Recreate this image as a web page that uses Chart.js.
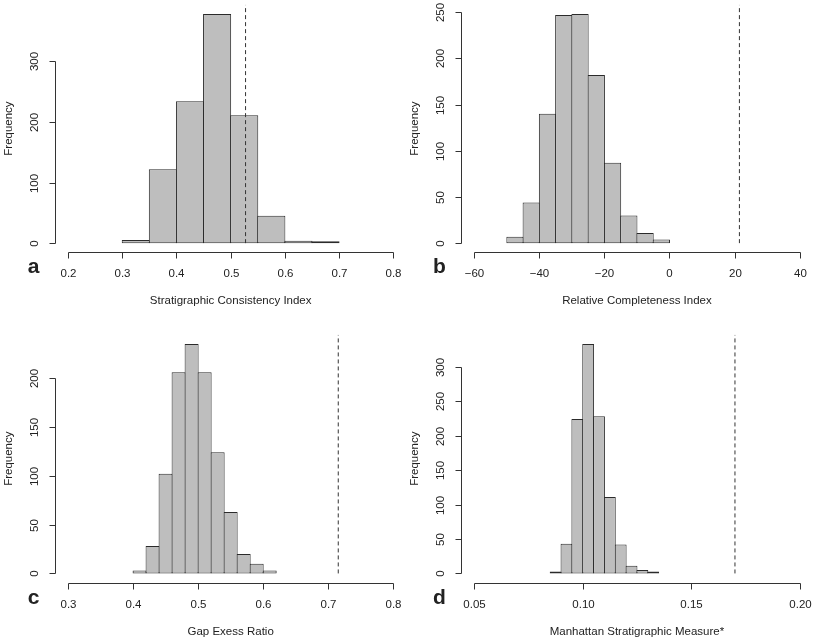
<!DOCTYPE html>
<html>
<head>
<meta charset="utf-8">
<script src="https://cdn.jsdelivr.net/npm/chart.js@4.4.0/dist/chart.umd.min.js"></script>
<style>
  html, body { margin: 0; padding: 0; background: #fff; }
  #wrap { position: relative; width: 813px; height: 640px; overflow: hidden; }
  .panel { position: absolute; width: 407px; height: 320px; }
</style>
</head>
<body>
<div id="wrap">
  <div class="panel" style="left:0;top:0"><canvas id="chart-a" width="407" height="320"></canvas></div>
  <div class="panel" style="left:406px;top:0"><canvas id="chart-b" width="407" height="320"></canvas></div>
  <div class="panel" style="left:0;top:320px"><canvas id="chart-c" width="407" height="320"></canvas></div>
  <div class="panel" style="left:406px;top:320px"><canvas id="chart-d" width="407" height="320"></canvas></div>
</div>
<script>
// a: Stratigraphic Consistency Index
const sciBreaks = [0.30, 0.35, 0.40, 0.45, 0.50, 0.55, 0.60, 0.65, 0.70];
const sciCounts = [5, 122, 234, 378, 211, 45, 4, 1];
const sciTickLabels = ["0.2", "0.3", "0.4", "0.5", "0.6", "0.7", "0.8"];
const sciFreqLabels = ["0", "100", "200", "300"];
const sciObserved = 0.5275;

// b: Relative Completeness Index
const rciBreaks = [-50, -45, -40, -35, -30, -25, -20, -15, -10, -5, 0];
const rciCounts = [7, 44, 140, 247, 248, 182, 87, 30, 11, 4];
const rciTickLabels = ["\u221260", "\u221240", "\u221220", "0", "20", "40"];
const rciFreqLabels = ["0", "50", "100", "150", "200", "250"];
const rciObserved = 21.5;

// c: Gap Exess Ratio
const gerBreaks = [0.40, 0.42, 0.44, 0.46, 0.48, 0.50, 0.52, 0.54, 0.56, 0.58, 0.60, 0.62];
const gerCounts = [3, 28, 102, 206, 235, 206, 124, 63, 20, 10, 3];
const gerTickLabels = ["0.3", "0.4", "0.5", "0.6", "0.7", "0.8"];
const gerFreqLabels = ["0", "50", "100", "150", "200"];
const gerObserved = 0.7154;

// d: Manhattan Stratigraphic Measure*
const msmBreaks = [0.085, 0.090, 0.095, 0.100, 0.105, 0.110, 0.115, 0.120, 0.125, 0.130, 0.135];
const msmCounts = [1, 43, 224, 333, 228, 111, 42, 11, 5, 2];
const msmTickLabels = ["0.05", "0.10", "0.15", "0.20"];
const msmFreqLabels = ["0", "50", "100", "150", "200", "250", "300"];
const msmObserved = 0.1702;

const FONT = "'Liberation Sans', Arial, Helvetica, sans-serif";
const PLOT_W = 351.3; // width of the plot region, same in every panel

const toNum = (s) => Number(s.replace("\u2212", "-"));

// Draws R base-graphics style axes (line only between first and last tick)
const rAxes = {
  id: "rAxes",
  afterDraw(chart, args, opts) {
    const { ctx, chartArea: area } = chart;
    const xs = chart.scales.x, ys = chart.scales.y;
    ctx.save();
    ctx.strokeStyle = "#333";
    ctx.fillStyle = "#222";
    ctx.lineWidth = 1;

    // x axis
    const yb = Math.round(area.bottom) + 0.5;
    const xp = opts.xLabels.map((l) => Math.round(xs.getPixelForValue(toNum(l))) + 0.5);
    ctx.beginPath();
    ctx.moveTo(xp[0], yb);
    ctx.lineTo(xp[xp.length - 1], yb);
    xp.forEach((px) => {
      ctx.moveTo(px, yb);
      ctx.lineTo(px, yb + 6);
    });
    ctx.stroke();
    ctx.font = "11.5px " + FONT;
    ctx.textAlign = "center";
    ctx.textBaseline = "alphabetic";
    opts.xLabels.forEach((l, i) => ctx.fillText(l, xp[i], yb + 24.5));
    ctx.fillText(opts.title, (area.left + area.right) / 2, yb + 51);

    // y axis
    const xl = Math.round(area.left) + 0.5;
    const yp = opts.yLabels.map((l) => Math.round(ys.getPixelForValue(toNum(l))) + 0.5);
    ctx.beginPath();
    ctx.moveTo(xl, yp[0]);
    ctx.lineTo(xl, yp[yp.length - 1]);
    yp.forEach((py) => {
      ctx.moveTo(xl, py);
      ctx.lineTo(xl - 6, py);
    });
    ctx.stroke();
    ctx.textBaseline = "middle";
    opts.yLabels.forEach((l, i) => {
      ctx.save();
      ctx.translate(xl - 20.5, yp[i]);
      ctx.rotate(-Math.PI / 2);
      ctx.fillText(l, 0, 0);
      ctx.restore();
    });
    ctx.save();
    ctx.translate(xl - 46.5, (area.top + area.bottom) / 2);
    ctx.rotate(-Math.PI / 2);
    ctx.fillText("Frequency", 0, 0);
    ctx.restore();

    // panel letter
    ctx.font = "bold 21px " + FONT;
    ctx.textBaseline = "alphabetic";
    ctx.fillText(opts.letter, xl - 22, yb + 20.5);
    ctx.restore();
  },
};

function histogram(id, breaks, counts, xLabels, yLabels, observed, title, letter, pad) {
  const xVals = xLabels.map(toNum);
  const xPad = 0.04 * (xVals[xVals.length - 1] - xVals[0]);
  const xMin = xVals[0] - xPad, xMax = xVals[xVals.length - 1] + xPad;
  const yTop = Math.max(...counts);
  const yMin = -0.04 * yTop, yMax = 1.04 * yTop;
  const binPx = ((breaks[1] - breaks[0]) / (xMax - xMin)) * PLOT_W;

  const bars = counts.map((c, i) => ({ x: (breaks[i] + breaks[i + 1]) / 2, y: c }));

  new Chart(document.getElementById(id), {
    type: "bar",
    data: {
      datasets: [
        {
          type: "line",
          order: 0,
          data: [{ x: observed, y: 0 }, { x: observed, y: yMax }],
          borderColor: "#333",
          borderWidth: 1,
          borderDash: [4, 3],
          pointRadius: 0,
          fill: false,
        },
        {
          type: "bar",
          order: 1,
          data: bars,
          backgroundColor: "#bebebe",
          borderColor: "#2b2b2b",
          borderWidth: 1,
          borderSkipped: false,
          minBarLength: 2, // R still draws the outline of near-empty bins
          barPercentage: 1 + 1 / binPx, // overlap neighbours so shared edges are 1px
          categoryPercentage: 1,
        },
      ],
    },
    options: {
      responsive: false,
      animation: false,
      devicePixelRatio: 1,
      layout: { padding: { left: pad.left, right: 407 - pad.left - PLOT_W, top: pad.top, bottom: pad.bottom } },
      plugins: {
        legend: { display: false },
        tooltip: { enabled: false },
        rAxes: { xLabels, yLabels, title, letter },
      },
      scales: {
        x: {
          type: "linear",
          offset: false,
          min: xMin,
          max: xMax,
          display: false,
          afterBuildTicks: (s) => { s.ticks = xVals.map((v) => ({ value: v })); },
        },
        y: {
          type: "linear",
          min: yMin,
          max: yMax,
          display: false,
          afterBuildTicks: (s) => { s.ticks = yLabels.map((l) => ({ value: toNum(l) })); },
        },
      },
    },
    plugins: [rAxes],
  });
}

const topPad = { top: 4.8, bottom: 67.7 };
const botPad = { top: 14.8, bottom: 57.4 };

histogram("chart-a", sciBreaks, sciCounts, sciTickLabels, sciFreqLabels, sciObserved,
  "Stratigraphic Consistency Index", "a", { left: 55, ...topPad });
histogram("chart-b", rciBreaks, rciCounts, rciTickLabels, rciFreqLabels, rciObserved,
  "Relative Completeness Index", "b", { left: 55.3, ...topPad });
histogram("chart-c", gerBreaks, gerCounts, gerTickLabels, gerFreqLabels, gerObserved,
  "Gap Exess Ratio", "c", { left: 55, ...botPad });
histogram("chart-d", msmBreaks, msmCounts, msmTickLabels, msmFreqLabels, msmObserved,
  "Manhattan Stratigraphic Measure*", "d", { left: 55.3, ...botPad });
</script>
</body>
</html>
